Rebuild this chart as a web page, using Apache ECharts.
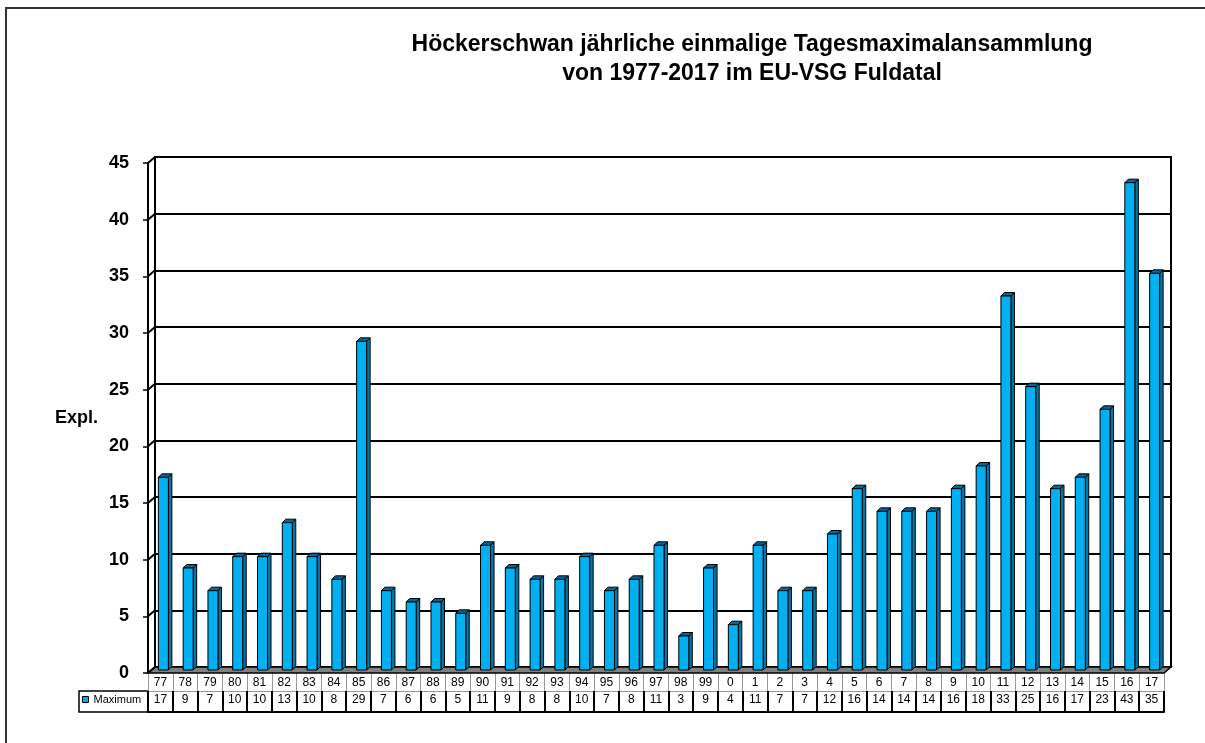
<!DOCTYPE html>
<html>
<head>
    <meta charset="utf-8">
    <script src="https://cdn.jsdelivr.net/npm/echarts@6/dist/echarts.min.js"></script>
</head>
<body style="margin:0">
    <div id="main" style="width: 1205px;height:743px;"></div>
<script type="text/javascript">
    // Jahre (Kurzform) und Tagesmaxima
    var years = ['77','78','79','80','81','82','83','84','85','86','87','88','89','90','91','92','93','94','95','96','97','98','99',
                 '0','1','2','3','4','5','6','7','8','9','10','11','12','13','14','15','16','17'];
    var maxima = [17,9,7,10,10,13,10,8,29,7,6,6,5,11,9,8,8,10,7,8,11,3,9,
                  4,11,7,7,12,16,14,14,14,16,18,33,25,16,17,23,43,35];
    var yTicks = [0,5,10,15,20,25,30,35,40,45];
    var seriesName = 'Maximum';

    var myChart = echarts.init(document.getElementById('main'));

    var font = '"Liberation Sans", Arial, sans-serif';

    // 3D-Säule: Vorderseite, Seite, Deckel
    function renderBar(params, api) {
        var i = api.value(0), v = api.value(1);
        var top = api.coord([i, v]);
        var base = api.coord([i, 0]);
        var cx = top[0] - 4, ty = top[1] + 3, by = base[1] + 3;
        var w = 5, d = 3.5;
        var st = { stroke: '#000', lineWidth: 1 };
        return {
            type: 'group',
            children: [
                { type: 'polygon', shape: { points: [[cx + w, ty], [cx + w + d, ty - d], [cx + w + d, by - d], [cx + w, by]] },
                  style: Object.assign({ fill: '#0077a8' }, st) },
                { type: 'polygon', shape: { points: [[cx - w, ty], [cx + w, ty], [cx + w + d, ty - d], [cx - w + d, ty - d]] },
                  style: Object.assign({ fill: '#00689a' }, st) },
                { type: 'rect', shape: { x: cx - w, y: ty, width: 2 * w, height: by - ty },
                  style: Object.assign({ fill: '#00b0f0' }, st) }
            ]
        };
    }

    // Boden
    function renderFloor(params, api) {
        var cs = params.coordSys;
        var y = cs.y + cs.height;
        return {
            type: 'polygon',
            shape: { points: [[cs.x, y], [cs.x + cs.width, y], [cs.x + cs.width - 7, y + 6], [cs.x - 7, y + 6]] },
            style: { fill: '#808080', stroke: '#000', lineWidth: 1.5 }
        };
    }

    // Seitenwand-Linien
    function renderWall(params, api) {
        var cs = params.coordSys;
        var p = api.coord([0, api.value(0)]);
        return {
            type: 'line',
            shape: { x1: cs.x, y1: p[1], x2: cs.x - 7, y2: p[1] + 6 },
            style: { stroke: '#000', lineWidth: 2 }
        };
    }

    var option = {
        backgroundColor: '#fff',
        animation: false,
        title: {
            text: 'Höckerschwan jährliche einmalige Tagesmaximalansammlung\nvon 1977-2017 im EU-VSG Fuldatal',
            left: 747,
            top: 25,
            textAlign: 'center',
            textStyle: { fontFamily: font, fontSize: 23, fontWeight: 'bold', color: '#000', lineHeight: 29 }
        },
        legend: {
            data: [seriesName],
            left: 82,
            top: 694,
            padding: 0,
            icon: 'rect',
            itemWidth: 6,
            itemHeight: 6,
            itemStyle: { color: '#00b0f0', borderColor: '#000', borderWidth: 1 },
            textStyle: { fontFamily: font, fontSize: 11, color: '#000' },
            selectedMode: false
        },
        graphic: [
            { type: 'rect', shape: { x: 6, y: 8, width: 1260, height: 800 }, style: { fill: 'none', stroke: '#333', lineWidth: 2 } },
            { type: 'rect', shape: { x: 79, y: 691, width: 69, height: 21 }, style: { fill: 'none', stroke: '#000', lineWidth: 1.5 } },
            { type: 'text', left: 55, top: 409, style: { text: 'Expl.', font: 'bold 18px ' + font, fill: '#000' } }
        ],
        grid: [
            { left: 155, top: 157, width: 1016, height: 510, show: true, borderColor: '#000', borderWidth: 2, containLabel: false, outerBoundsMode: 'none' },
            { left: 148, top: 163, width: 1016, height: 510, containLabel: false, outerBoundsMode: 'none' },
            { left: 148, top: 691, width: 1016, height: 21, containLabel: false, outerBoundsMode: 'none' }
        ],
        xAxis: [
            { type: 'category', gridIndex: 0, data: years, show: false },
            { type: 'category', gridIndex: 1, data: years, show: false },
            {
                type: 'category', gridIndex: 2, position: 'top', data: years,
                axisLine: { onZero: false, lineStyle: { color: '#999', width: 1 } },
                axisTick: { show: true, interval: 0, length: 18, lineStyle: { color: '#999', width: 1 } },
                axisLabel: { interval: 0, margin: 2, fontFamily: font, fontSize: 12, color: '#000' }
            },
            {
                type: 'category', gridIndex: 2, position: 'bottom', data: maxima.map(String),
                axisLine: { onZero: false, lineStyle: { color: '#000', width: 2 } },
                axisTick: { show: true, interval: 0, inside: true, length: 21, lineStyle: { color: '#000', width: 2 } },
                axisLabel: { interval: 0, inside: true, margin: 6, fontFamily: font, fontSize: 12, color: '#000' }
            }
        ],
        yAxis: [
            {
                type: 'value', gridIndex: 0, min: 0, max: 45, interval: 5,
                axisLine: { show: false }, axisTick: { show: false }, axisLabel: { show: false },
                splitLine: { lineStyle: { color: '#000', width: 2 } }
            },
            {
                type: 'value', gridIndex: 1, min: 0, max: 45, interval: 5,
                axisLine: { show: true, onZero: false, lineStyle: { color: '#000', width: 2 } },
                axisTick: { show: true, length: 5, lineStyle: { color: '#000', width: 1.5 } },
                axisLabel: { margin: 19, fontFamily: font, fontSize: 18, fontWeight: 'bold', color: '#000' },
                splitLine: { show: false }
            },
            { type: 'value', gridIndex: 2, show: false, splitLine: { show: false } }
        ],
        series: [
            {
                type: 'custom', name: 'floor', xAxisIndex: 0, yAxisIndex: 0, z: 3,
                renderItem: renderFloor, data: [[0, 0]], silent: true
            },
            {
                type: 'custom', name: 'wall', xAxisIndex: 0, yAxisIndex: 0, z: 3,
                renderItem: renderWall, data: yTicks.map(function (v) { return [v]; }), silent: true
            },
            {
                type: 'custom', name: seriesName, xAxisIndex: 0, yAxisIndex: 0, z: 4,
                itemStyle: { color: '#00b0f0' },
                renderItem: renderBar,
                encode: { x: 0, y: 1 },
                data: maxima.map(function (v, i) { return [i, v]; })
            }
        ]
    };

    myChart.setOption(option);
</script>
</body>
</html>
